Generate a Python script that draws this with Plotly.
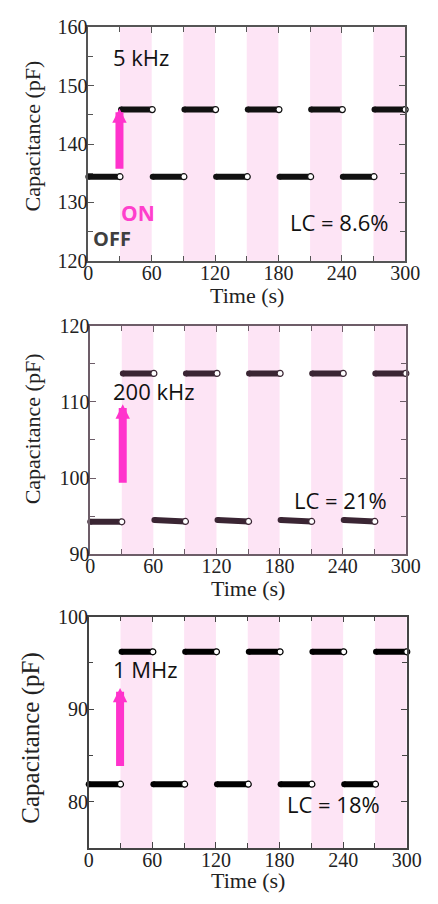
import plotly.graph_objects as go

# ---------------- data ----------------
# time windows of the measured segments (s): OFF, ON, OFF, ON, ...
seg_start = [0, 31, 61, 91, 121, 151, 181, 211, 241, 271]
seg_end = [30, 60.5, 90.5, 120.5, 150.5, 180.5, 210.5, 240.5, 270.5, 300]

# light-ON windows (s)
on_start = [30, 90, 150, 210, 270]
on_end = [60, 120, 180, 240, 300]

# capacitance (pF) at start / end of each segment
cap5k_start = [134.4, 145.9, 134.4, 145.9, 134.4, 145.9, 134.4, 145.9, 134.4, 145.9]
cap5k_end = [134.4, 145.9, 134.4, 145.9, 134.4, 145.9, 134.4, 145.9, 134.4, 145.9]

cap200k_start = [94.25, 113.75, 94.5, 113.75, 94.5, 113.75, 94.5, 113.75, 94.5, 113.75]
cap200k_end = [94.25, 113.75, 94.3, 113.75, 94.3, 113.75, 94.3, 113.75, 94.3, 113.75]

cap1M_start = [81.9, 96.2, 81.9, 96.2, 81.9, 96.2, 81.9, 96.2, 81.9, 96.2]
cap1M_end = [81.9, 96.2, 81.9, 96.2, 81.9, 96.2, 81.9, 96.2, 81.9, 96.2]

freq_labels = ["5 kHz", "200 kHz", "1 MHz"]
lc_labels = ["LC = 8.6%", "LC = 21%", "LC = 18%"]

x_ticks = [0, 60, 120, 180, 240, 300]

# ---------------- layout geometry ----------------
W, H = 438, 904
panels = [
    dict(xpx=(87.3, 419.3), ypx=(16.7, 256.0), yr=[120, 160], yt=[120, 130, 140, 150, 160],
         cs=cap5k_start, ce=cap5k_end, col="#111111", axcol="#555555",
         freq=(21.5, 154.9), arrow=(29.5, 146.1, 135.5), lc=(189, 126.6),
         ytitle=dict(x=-0.1756, y=0.535, size=22), xtitle_y=-0.15),
    dict(xpx=(89.3, 420.0), ypx=(322.7, 556.7), yr=[90, 120], yt=[90, 100, 110, 120],
         cs=cap200k_start, ce=cap200k_end, col="#3a2533", axcol="#6d5d68",
         freq=(19.7, 111.4), arrow=(30.9, 109.7, 99.2), lc=(192, 97.05),
         ytitle=dict(x=-0.182, y=0.55, size=22), xtitle_y=-0.15),
    dict(xpx=(87.7, 421.0), ypx=(620.7, 858.0), yr=[75, 100], yt=[80, 90, 100],
         cs=cap1M_start, ce=cap1M_end, col="#000000", axcol="#444444",
         freq=(21.0, 94.3), arrow=(29.6, 92.3, 83.7), lc=(185.6, 79.8),
         ytitle=dict(x=-0.182, y=0.476, size=25), xtitle_y=-0.142),
]

fig = go.Figure()
shapes = []
annotations = []
serif = "Liberation Serif"
sans = "Open Sans"
pink = "#ff33cc"

for i, p in enumerate(panels):
    n = "" if i == 0 else str(i + 1)
    xa, ya = "x" + n, "y" + n
    xdom = [p["xpx"][0] / W, p["xpx"][1] / W]
    ydom = [1 - p["ypx"][1] / H, 1 - p["ypx"][0] / H]

    # ON bands
    for s, e in zip(on_start, on_end):
        shapes.append(dict(type="rect", xref=xa, yref=ya + " domain", x0=s, x1=e, y0=0, y1=1,
                           fillcolor="#fde4f5", line_width=0, layer="below"))

    # segments
    xs, ys = [], []
    for s, e, c0, c1 in zip(seg_start, seg_end, p["cs"], p["ce"]):
        xs += [s, e, None]
        ys += [c0, c1, None]
    fig.add_trace(go.Scatter(x=xs, y=ys, mode="lines", xaxis=xa, yaxis=ya,
                             line=dict(color=p["col"], width=6), hoverinfo="skip"))
    fig.add_trace(go.Scatter(x=seg_start, y=p["cs"], mode="markers", xaxis=xa, yaxis=ya,
                             marker=dict(size=6, color=p["col"], line=dict(width=0)),
                             cliponaxis=False, hoverinfo="skip"))
    fig.add_trace(go.Scatter(x=seg_end, y=p["ce"], mode="markers", xaxis=xa, yaxis=ya,
                             marker=dict(size=6, color="white", line=dict(width=1.2, color=p["col"])),
                             cliponaxis=False, hoverinfo="skip"))

    axcol = p["axcol"]
    fig.update_layout(**{
        "xaxis" + n: dict(domain=xdom, anchor=ya, range=[0, 300], tickvals=x_ticks,
                          ticks="inside", ticklen=6, tickwidth=1.3, tickcolor=axcol,
                          showline=True, linecolor=axcol, linewidth=1.5, mirror="ticks",
                          showgrid=False, zeroline=False, ticklabelstandoff=-7,
                          minor=dict(ticks="inside", tick0=0, dtick=30, ticklen=5,
                                     tickwidth=1.3, tickcolor=axcol),
                          tickfont=dict(family=serif, size=20, color="#222222")),
        "yaxis" + n: dict(domain=ydom, anchor=xa, range=p["yr"], tickvals=p["yt"],
                          ticks="inside", ticklen=6, tickwidth=1.3, tickcolor=axcol,
                          showline=True, linecolor=axcol, linewidth=1.5, mirror="ticks",
                          showgrid=False, zeroline=False, ticklabelstandoff=-5,
                          minor=dict(ticks="inside", tick0=0, dtick=5, ticklen=5,
                                     tickwidth=1.3, tickcolor=axcol),
                          tickfont=dict(family=serif, size=20, color="#222222")),
    })

    # axis titles
    annotations.append(dict(text="Time (s)", xref=xa + " domain", yref=ya + " domain",
                            x=0.5, y=p["xtitle_y"], xanchor="center", yanchor="middle",
                            showarrow=False, font=dict(family=serif, size=22, color="#222222")))
    annotations.append(dict(text="Capacitance (pF)", xref=xa + " domain", yref=ya + " domain",
                            x=p["ytitle"]["x"], y=p["ytitle"]["y"], textangle=-90,
                            xanchor="center", yanchor="middle", showarrow=False,
                            font=dict(family=serif, size=p["ytitle"]["size"], color="#222222")))
    # frequency label
    annotations.append(dict(text=freq_labels[i], xref=xa, yref=ya, x=p["freq"][0], y=p["freq"][1],
                            xanchor="left", yanchor="middle", showarrow=False,
                            font=dict(family=sans, size=22, color="#111111")))
    # LC label
    annotations.append(dict(text=lc_labels[i], xref=xa, yref=ya, x=p["lc"][0], y=p["lc"][1],
                            xanchor="left", yanchor="middle", showarrow=False,
                            font=dict(family=sans, size=22, color="#111111")))
    # arrow
    ax_x, tip_y, tail_y = p["arrow"]
    annotations.append(dict(text="", xref=xa, yref=ya, x=ax_x, y=tip_y,
                            axref=xa, ayref=ya, ax=ax_x, ay=tail_y,
                            showarrow=True, arrowhead=2, arrowsize=0.36, arrowwidth=8,
                            arrowcolor=pink, standoff=0, startstandoff=0))

# ON / OFF labels (top panel)
annotations.append(dict(text="<b>ON</b>", xref="x", yref="y", x=46.7, y=128.2,
                        xanchor="center", yanchor="middle", showarrow=False,
                        font=dict(family=sans, size=21, color="#ff3fcc")))
annotations.append(dict(text="<b>OFF</b>", xref="x", yref="y", x=3, y=123.8,
                        xanchor="left", yanchor="middle", showarrow=False,
                        font=dict(family=sans, size=20, color="#3f3f3f")))

fig.update_layout(width=W, height=H, margin=dict(l=0, r=0, t=0, b=0),
                  paper_bgcolor="white", plot_bgcolor="white", showlegend=False,
                  shapes=shapes, annotations=annotations)

fig.write_html("out.html")
